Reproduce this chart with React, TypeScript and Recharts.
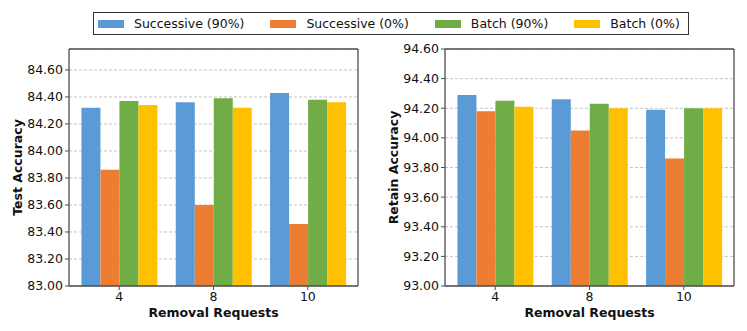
import React from "react";
import { Bar, BarChart, CartesianGrid, Legend, XAxis, YAxis } from "recharts";

const categories = ["4", "8", "10"];

const testSuccessive90 = [84.32, 84.36, 84.43];
const testSuccessive0 = [83.86, 83.6, 83.46];
const testBatch90 = [84.37, 84.39, 84.38];
const testBatch0 = [84.34, 84.32, 84.36];

const retainSuccessive90 = [94.29, 94.26, 94.19];
const retainSuccessive0 = [94.18, 94.05, 93.86];
const retainBatch90 = [94.25, 94.23, 94.2];
const retainBatch0 = [94.21, 94.2, 94.2];

const testTicks = [83.0, 83.2, 83.4, 83.6, 83.8, 84.0, 84.2, 84.4, 84.6];
const retainTicks = [93.0, 93.2, 93.4, 93.6, 93.8, 94.0, 94.2, 94.4, 94.6];

const seriesNames = ["Successive (90%)", "Successive (0%)", "Batch (90%)", "Batch (0%)"];
const seriesColors = ["#5b9bd5", "#ed7d31", "#70ad47", "#ffc000"];

const font = "'DejaVu Sans', sans-serif";
const axisColor = "#4d4d4d";
const tickStyle = { fontSize: 12.5, fill: "#111", fontFamily: font };

const PLOT_W = 289;
const PLOT_TOP = 49;

function buildRows(a: number[], b: number[], c: number[], d: number[]) {
	return categories.map((name, i) => ({ name, s90: a[i], s0: b[i], b90: c[i], b0: d[i] }));
}

const testRows = buildRows(testSuccessive90, testSuccessive0, testBatch90, testBatch0);
const retainRows = buildRows(retainSuccessive90, retainSuccessive0, retainBatch90, retainBatch0);

const keys = ["s90", "s0", "b90", "b0"];

function LegendBox() {
	return (
		<div
			style={{
				display: "flex",
				alignItems: "center",
				height: 23,
				width: 596,
				border: "1px solid #333",
				background: "#fff",
				fontFamily: font,
				fontSize: 12.5,
				color: "#111",
				boxSizing: "border-box",
				paddingLeft: 4,
				whiteSpace: "nowrap",
			}}
		>
			{seriesNames.map((n, i) => (
				<div key={n} style={{ display: "flex", alignItems: "center", marginRight: i < 3 ? 26 : 0 }}>
					<span style={{ width: 26, height: 8, background: seriesColors[i], display: "inline-block", marginRight: 10 }} />
					<span>{n}</span>
				</div>
			))}
		</div>
	);
}

interface PanelProps {
	rows: typeof testRows;
	domain: [number, number];
	ticks: number[];
	yLabel: string;
	yAxisWidth: number;
	yLabelX: number;
	showLegend?: boolean;
}

function Panel({ rows, domain, ticks, yLabel, yAxisWidth, yLabelX, showLegend }: PanelProps) {
	const right = yAxisWidth + PLOT_W;
	return (
		<BarChart
			width={380}
			height={331}
			data={rows}
			margin={{ top: PLOT_TOP, right: 380 - right, bottom: 0, left: 0 }}
			barCategoryGap="10%"
			barGap={0}
			style={{ overflow: "visible" }}
		>
			<CartesianGrid vertical={false} strokeDasharray="3 2" stroke="#c4c4c4" />
			{/* frame: top and right edges */}
			<CartesianGrid
				horizontalPoints={[PLOT_TOP]}
				verticalPoints={[right]}
				stroke={axisColor}
				strokeWidth={1.3}
			/>
			<XAxis
				dataKey="name"
				height={45}
				padding={{ left: 3, right: 3 }}
				tick={tickStyle}
				tickSize={4}
				tickMargin={2}
				axisLine={{ stroke: axisColor, strokeWidth: 1.3 }}
				tickLine={{ stroke: axisColor }}
				label={{
					content: ({ viewBox }: any) => (
						<text
							x={viewBox.x + viewBox.width / 2}
							y={viewBox.y + 31}
							textAnchor="middle"
							fontFamily={font}
							fontWeight="bold"
							fontSize={12.5}
							fill="#111"
						>
							Removal Requests
						</text>
					),
				}}
			/>
			<YAxis
				domain={domain}
				ticks={ticks}
				allowDataOverflow
				width={yAxisWidth}
				tick={tickStyle}
				tickSize={4}
				tickMargin={2}
				tickFormatter={(v) => v.toFixed(2)}
				axisLine={{ stroke: axisColor, strokeWidth: 1.3 }}
				tickLine={{ stroke: axisColor }}
				label={{
					content: ({ viewBox }: any) => {
						const cy = viewBox.y + viewBox.height / 2;
						return (
							<text
								x={yLabelX}
								y={cy}
								transform={`rotate(-90, ${yLabelX}, ${cy})`}
								textAnchor="middle"
								dominantBaseline="central"
								fontFamily={font}
								fontWeight="bold"
								fontSize={12.5}
								fill="#111"
							>
								{yLabel}
							</text>
						);
					},
				}}
			/>
			{showLegend && (
				<Legend
					verticalAlign="middle"
					content={() => <LegendBox />}
					wrapperStyle={{ position: "absolute", top: 12, left: 93, width: 596, height: 23 }}
				/>
			)}
			{keys.map((k, i) => (
				<Bar key={k} dataKey={k} name={seriesNames[i]} fill={seriesColors[i]} isAnimationActive={false} />
			))}
		</BarChart>
	);
}

export default function App() {
	return (
		<div style={{ position: "absolute", left: 0, top: 0, width: 747, height: 331, background: "#fff", overflow: "hidden" }}>
			<div style={{ position: "absolute", left: 380, top: 0 }}>
				<Panel rows={retainRows} domain={[93, 94.6]} ticks={retainTicks} yLabel="Retain Accuracy" yAxisWidth={65} yLabelX={13} />
			</div>
			<div style={{ position: "absolute", left: 0, top: 0 }}>
				<Panel rows={testRows} domain={[83, 84.755]} ticks={testTicks} yLabel="Test Accuracy" yAxisWidth={69} yLabelX={17} showLegend />
			</div>
		</div>
	);
}
